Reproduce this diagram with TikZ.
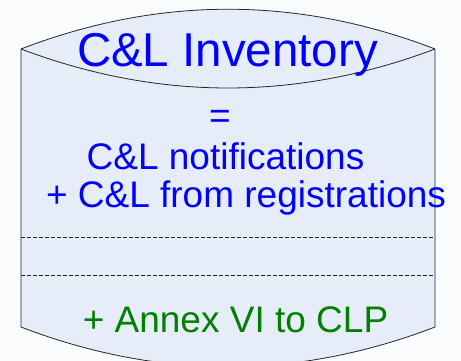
\documentclass[tikz,border=0pt]{standalone}
\usepackage{fontspec}
\setmainfont{Liberation Sans}
\definecolor{bgc}{RGB}{250,251,253}
\definecolor{cylfill}{RGB}{231,237,248}
\definecolor{txtblue}{RGB}{0,0,255}
\definecolor{txtgreen}{RGB}{0,128,0}
\begin{document}
\begin{tikzpicture}[x=1pt,y=1pt,
  outline/.style={draw=black!85,line width=0.8pt},
  sep/.style={draw=black!85,line width=0.6pt,dash pattern=on 4pt off 2pt},
  bluetxt/.style={text=txtblue,inner sep=0pt,anchor=base,font=\fontsize{37}{44}\selectfont},
  greentxt/.style={text=txtgreen,inner sep=0pt,anchor=base,font=\fontsize{37}{44}\selectfont},
  titletxt/.style={text=txtblue,inner sep=0pt,anchor=base,font=\fontsize{47.5}{56}\selectfont}]
\useasboundingbox (0,0) rectangle (461,361);
\fill[bgc] (0,0) rectangle (461,361);
\coordinate (tl) at (21,312);
\coordinate (tr) at (435,312);
\coordinate (bl) at (21,34);
\coordinate (br) at (435,34);
% body
\path[fill=cylfill,outline] (tl) .. controls (159,365) and (297,365) .. (tr)
  -- (br) .. controls (297,-19) and (159,-19) .. (bl) -- cycle;
% front arc of top
\draw[outline] (tl) .. controls (159,260) and (297,260) .. (tr);
% dashed separators
\coordinate (d1l) at (21,124); \coordinate (d1r) at (435,124);
\coordinate (d2l) at (21,86); \coordinate (d2r) at (435,86);
\draw[sep] (d1l) -- (d1r);
\draw[sep] (d2l) -- (d2r);
% texts
\node[titletxt] (title) at (227.5,294) {C\&L Inventory};
\node[bluetxt] (eq) at (220,232) {=};
\node[bluetxt] (notif) at (225.5,191) {C\&L notifications};
\node[bluetxt] (reg) at (246,153) {+ C\&L from registrations};
\node[greentxt] (annex) at (235.5,28) {+ Annex VI to CLP};
\end{tikzpicture}
\end{document}
